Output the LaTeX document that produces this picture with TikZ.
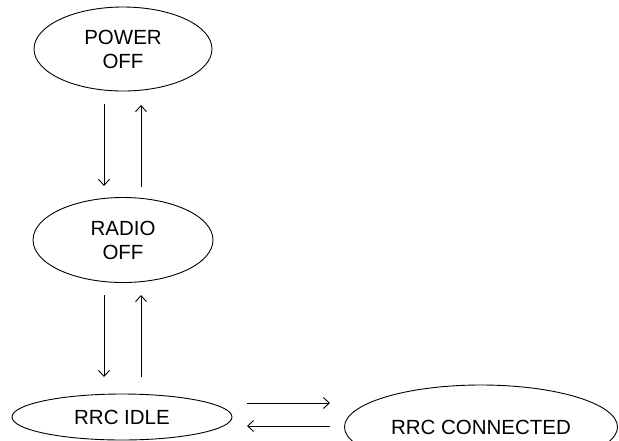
\documentclass[tikz,border=0pt]{standalone}
\usepackage{fontspec}
\setmainfont{Liberation Sans}
\usetikzlibrary{shapes.geometric,arrows.meta}
\begin{document}
\begin{tikzpicture}[x=1pt,y=-1pt,
  state/.style={draw,ellipse,line width=0.9pt,inner sep=0pt,font=\fontsize{20.5}{24}\selectfont,align=center},
  tr/.style={line width=0.9pt,-{Straight Barb[length=6pt,width=11pt]}}]
\useasboundingbox (0,0) rectangle (619,440);
\clip (0,0) rectangle (619,440);
\node[state,minimum width=178pt,minimum height=84pt] (po) at (123,49) {POWER\\OFF};
\node[state,minimum width=180pt,minimum height=85pt] (ro) at (123,240) {RADIO\\OFF};
\node[state,minimum width=220pt,minimum height=46pt] (idle) at (122,417) {RRC IDLE};
\node[state,minimum width=273pt,minimum height=84pt] (con) at (481,427) {RRC CONNECTED};
\coordinate (a1s) at (104,104); \coordinate (a1e) at (104,186);
\coordinate (a2s) at (141,187); \coordinate (a2e) at (141,105);
\coordinate (a3s) at (104,295); \coordinate (a3e) at (104,377);
\coordinate (a4s) at (141,377); \coordinate (a4e) at (141,295);
\coordinate (a5s) at (247,403); \coordinate (a5e) at (330,403);
\coordinate (a6s) at (330,426); \coordinate (a6e) at (247,426);
\draw[tr] (a1s) -- (a1e);
\draw[tr] (a2s) -- (a2e);
\draw[tr] (a3s) -- (a3e);
\draw[tr] (a4s) -- (a4e);
\draw[tr] (a5s) -- (a5e);
\draw[tr] (a6s) -- (a6e);
\end{tikzpicture}
\end{document}
